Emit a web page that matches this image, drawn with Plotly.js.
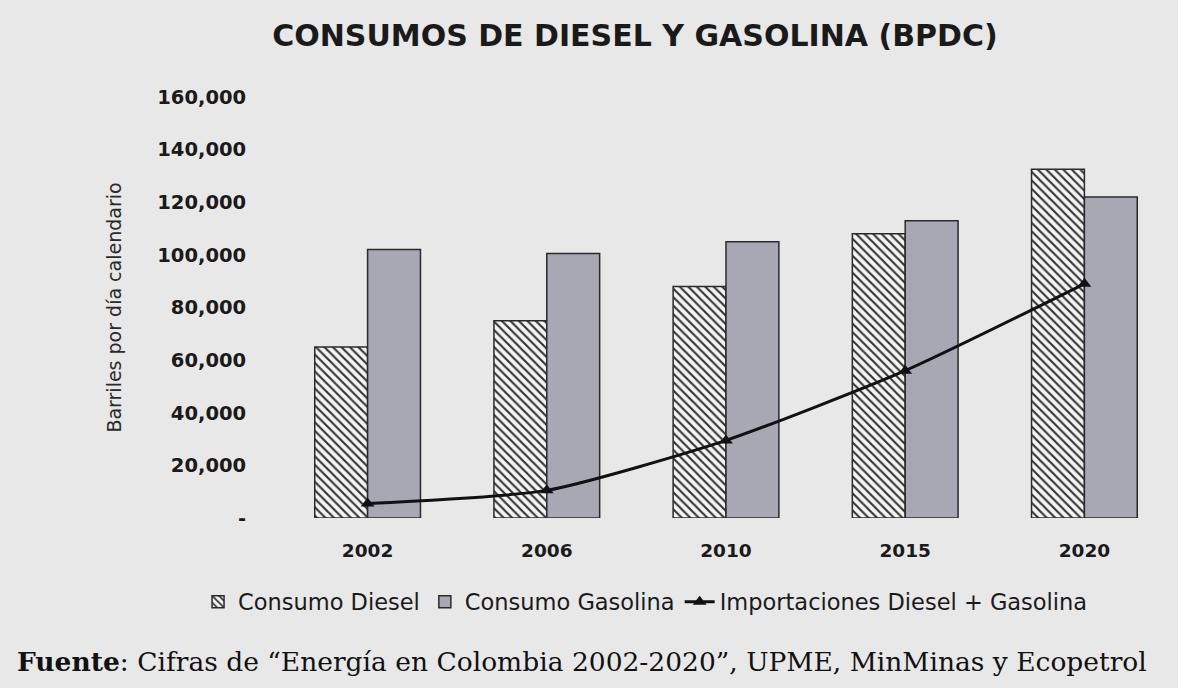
<!DOCTYPE html>
<html>
<head>
<meta charset="utf-8">
<script src="https://cdn.plot.ly/plotly-3.0.1.min.js"></script>
<style>html,body{margin:0;padding:0;background:#e8e8e8;}</style>
</head>
<body>
<div id="chart" style="width:1178px;height:688px;"></div>
<script>
const years = ['2002', '2006', '2010', '2015', '2020'];
const consumoDiesel = [65000, 75000, 88000, 108000, 132500];
const consumoGasolina = [102000, 100500, 105000, 113000, 122000];
const importaciones = [5500, 10500, 29500, 56000, 89000];
const yTickVals = [0, 20000, 40000, 60000, 80000, 100000, 120000, 140000, 160000];
const yTickText = ['-', '20,000', '40,000', '60,000', '80,000', '100,000', '120,000', '140,000', '160,000'];

const SANS = 'DejaVu Sans, Verdana, sans-serif';

const traces = [
  {
    type: 'bar', name: 'Consumo Diesel', x: years, y: consumoDiesel,
    marker: {color: '#ffffff', line: {color: '#2a2a2a', width: 1.5},
      pattern: {shape: '\\', bgcolor: '#f4f4f4', fgcolor: '#333333', size: 6, solidity: 0.35}}
  },
  {
    type: 'bar', name: 'Consumo Gasolina', x: years, y: consumoGasolina,
    marker: {color: '#a8a7b4', line: {color: '#2a2a2a', width: 1.5}}
  },
  {
    type: 'scatter', mode: 'lines+markers', name: 'Importaciones Diesel + Gasolina',
    x: years, y: importaciones,
    line: {color: '#111111', width: 3, shape: 'spline', smoothing: 0.6},
    marker: {symbol: 'triangle-up', size: 12, color: '#111111'}
  }
];

const layout = {
  width: 1178, height: 688,
  paper_bgcolor: '#e8e8e8', plot_bgcolor: '#e8e8e8',
  margin: {l: 278, r: 4, t: 97, b: 170},
  barmode: 'group', bargap: 0.41, bargroupgap: 0,
  font: {family: SANS, color: '#1a1a1a'},
  title: {text: '<b>CONSUMOS DE DIESEL Y GASOLINA (BPDC)</b>', x: 0.539, xanchor: 'center', y: 0.948, yanchor: 'middle',
    font: {size: 30, color: '#1a1a1a', family: SANS}},
  xaxis: {type: 'category', showgrid: false, zeroline: false, showline: false,
    ticks: 'outside', ticklen: 16, tickcolor: 'rgba(0,0,0,0)',
    tickfont: {size: 18.5, color: '#1a1a1a'}, tickprefix: '<b>', ticksuffix: '</b>'},
  yaxis: {range: [0, 160000], showgrid: false, zeroline: false, showline: false,
    tickvals: yTickVals, ticktext: yTickText.map(t => '<b>' + t + '</b>'),
    ticks: 'outside', ticklen: 27, tickcolor: 'rgba(0,0,0,0)',
    tickfont: {size: 19.5, color: '#1a1a1a'},
    title: {text: 'Barriles por día calendario', standoff: 30, font: {size: 19, color: '#2a2a2a'}}},
  legend: {orientation: 'h', xref: 'container', yref: 'container', x: 0.548, y: 0.125,
    xanchor: 'center', yanchor: 'middle', font: {size: 22.5, color: '#1a1a1a'},
    bgcolor: 'rgba(0,0,0,0)', traceorder: 'normal'},
  showlegend: true,
  annotations: [{
    xref: 'paper', yref: 'paper', x: -0.2935, y: -0.342, xanchor: 'left', yanchor: 'middle',
    showarrow: false, align: 'left',
    text: '<b>Fuente</b>: Cifras de “Energía en Colombia 2002-2020”, UPME, MinMinas y Ecopetrol',
    font: {family: 'DejaVu Serif, Liberation Serif, serif', size: 26.5, color: '#111111'}
  }]
};

Plotly.newPlot('chart', traces, layout, {displayModeBar: false, staticPlot: true});
</script>
</body>
</html>
